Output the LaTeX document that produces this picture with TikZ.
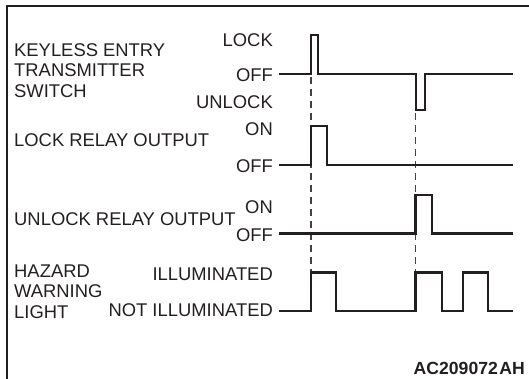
\documentclass[tikz,border=0pt]{standalone}
\usepackage{fontspec}
\setmainfont{Liberation Sans}
\begin{document}
\begin{tikzpicture}[x=1pt,y=-1pt,
  lbl/.style={inner sep=0pt,font=\fontsize{18.4}{20.4}\selectfont,text=ink},
  sig/.style={line width=2.8pt,draw=ink,line join=miter},
  guide/.style={line width=1.4pt,draw=ink!85,dash pattern=on 7pt off 5pt},
  frame/.style={line width=1.5pt,draw=ink}]
\definecolor{ink}{HTML}{231F20}
\useasboundingbox (0,0) rectangle (529,379);
% frame
\draw[frame] (7,379) -- (7,6) -- (529,6);
% left labels
\node[lbl,anchor=base west,align=left] (kes) at (14,97.3) {KEYLESS ENTRY\\TRANSMITTER\\SWITCH};
\node[lbl,anchor=base west] (lro) at (14,146.7) {LOCK RELAY OUTPUT};
\node[lbl,anchor=base west] (uro) at (14,225) {UNLOCK RELAY OUTPUT};
\node[lbl,anchor=base west,align=left] (hwl) at (14,318.3) {HAZARD\\WARNING\\LIGHT};
% state labels
\node[lbl,anchor=base east] (klock) at (273,46.7) {LOCK};
\node[lbl,anchor=base east] (koff) at (273,81.7) {OFF};
\node[lbl,anchor=base east] (kunl) at (273,109) {UNLOCK};
\node[lbl,anchor=base east] (lon) at (273,135.7) {ON};
\node[lbl,anchor=base east] (loff) at (273,172.3) {OFF};
\node[lbl,anchor=base east] (uon) at (273,213.3) {ON};
\node[lbl,anchor=base east] (uoff) at (273,241.5) {OFF};
\node[lbl,anchor=base east] (hon) at (273,280) {ILLUMINATED};
\node[lbl,anchor=base east] (hoff) at (273,316.7) {NOT ILLUMINATED};
\node[lbl,anchor=base east,font=\fontsize{17.6}{20}\selectfont\bfseries] (code) at (525,374.3) {AC209072\kern1.5pt AH};
% guide lines
\coordinate (g1a) at (311,77);
\coordinate (g1b) at (311,272);
\coordinate (g2a) at (415.5,113);
\coordinate (g2b) at (415.5,272);
\draw[guide] (g1a) -- (g1b);
\draw[guide] (g2a) -- (g2b);
% waveforms
\draw[sig] (279,74) -- (311,74) -- (311,35) -- (318,35) -- (318,74) -- (416,74) -- (416,110) -- (425,110) -- (425,74) -- (513,74);
\draw[sig] (279,165) -- (311,165) -- (311,126) -- (327,126) -- (327,165) -- (513,165);
\draw[sig] (279,233.5) -- (415.5,233.5) -- (415.5,195) -- (432,195) -- (432,233.5) -- (513,233.5);
\draw[sig] (279,311) -- (311,311) -- (311,272.7) -- (336,272.7) -- (336,311) -- (415.5,311) -- (415.5,272.7) -- (442,272.7) -- (442,311) -- (463,311) -- (463,272.7) -- (488,272.7) -- (488,311) -- (513,311);
\end{tikzpicture}
\end{document}
